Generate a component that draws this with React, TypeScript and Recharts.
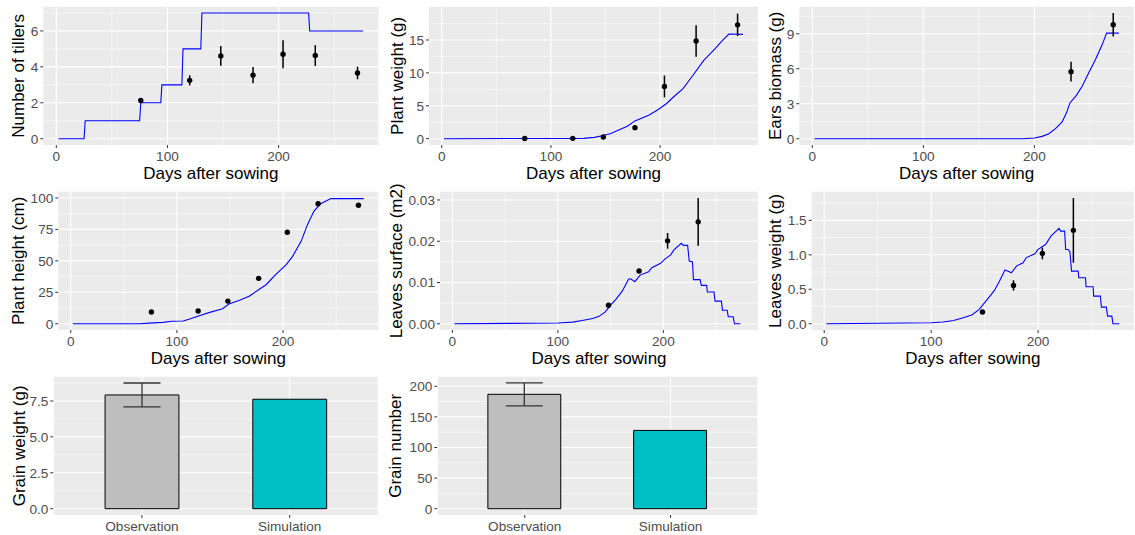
import React from 'react'
import {
  ComposedChart,
  BarChart,
  Line,
  Scatter,
  Bar,
  Cell,
  ErrorBar,
  XAxis,
  YAxis,
  CartesianGrid,
  Label,
} from 'recharts'

type Pt = [number, number]

const FONT = '"Liberation Sans", Arial, Helvetica, sans-serif'
const SIM_COLOR = '#0000FF'
const PANEL_BG = '#EBEBEB'
const TICK_TEXT = { fontSize: 13.6, fill: '#4D4D4D' }
const TICK_LINE = { stroke: '#333333', strokeWidth: 1 }

// shared time axis
const DAY_DOMAIN = [-11.7, 289.7]
const DAY_TICKS = [0, 100, 200]
const DAY_MINOR = [50, 150, 250]
const OBS_DAYS = [76, 120, 148, 177, 204, 233, 271]
const LATE_DAYS = [148, 177, 204, 233]
const EAR_DAYS = [233, 271]

// Number of tillers
const TILLERS_SIM: Pt[] = [
  [2, 0], [25, 0], [26, 1], [75, 1], [76, 2], [94, 2], [95, 3], [113, 3],
  [114, 5], [130, 5], [131, 7], [227, 7], [228, 6], [276, 6],
]
const TILLERS_OBS = [2.13, 3.25, 4.61, 3.54, 4.7, 4.63, 3.66]
const TILLERS_ERR = [0.08, 0.28, 0.55, 0.45, 0.78, 0.58, 0.35]

// Plant weight (g)
const WEIGHT_SIM: Pt[] = [
  [2, 0], [130, 0.05], [140, 0.2], [147, 0.45], [155, 0.8], [160, 1.15], [170, 1.9],
  [177, 2.7], [190, 3.6], [198, 4.4], [206, 5.35], [212, 6.3], [221, 7.6], [230, 9.6],
  [240, 11.9], [250, 13.6], [257, 14.9], [263, 15.9], [276, 15.85],
]
const WEIGHT_OBS = [0.03, 0.05, 0.25, 1.68, 7.94, 14.85, 17.3]
const WEIGHT_ERR = [0, 0, 0, 0, 1.65, 2.4, 1.7]

// Ears biomass (g)
const EARS_SIM: Pt[] = [
  [2, 0], [190, 0], [200, 0.06], [207, 0.2], [213, 0.43], [219, 0.86], [225, 1.44],
  [229, 2.24], [232, 3.07], [238, 3.74], [243, 4.5], [249, 5.66], [255, 6.8],
  [261, 8.05], [265, 9.05], [276, 9.05],
]
const EARS_OBS = [5.75, 9.77]
const EARS_ERR = [0.85, 1.0]

// Plant height (cm)
const HEIGHT_SIM: Pt[] = [
  [2, 0], [65, 0], [74, 0.5], [87, 1.1], [95, 1.9], [106, 2.1], [112, 3.7], [121, 6.4],
  [131, 9], [143, 11.9], [149, 15.6], [159, 18.6], [168, 21.8], [178, 27.6], [184, 31],
  [193, 39], [203, 47], [209, 53.6], [217, 65.5], [223, 78.8], [229, 89.4], [235, 95.2],
  [245, 99.5], [276, 99.5],
]
const HEIGHT_OBS = [9.3, 10.1, 18.0, 36.1, 72.7, 95.5, 94.2]
const HEIGHT_ERR = [0, 0, 0, 0, 0, 0, 0]

// Leaves surface (m2)
const SURFACE_SIM: Pt[] = [
  [2, 0], [100, 0.0002], [114, 0.0004], [123, 0.0008], [133, 0.0013], [139, 0.0018],
  [145, 0.0029], [150, 0.0045], [155, 0.0059], [161, 0.0079], [167, 0.0108],
  [169, 0.0109], [173, 0.0102], [178, 0.0118], [186, 0.0126], [189, 0.0136],
  [197, 0.0146], [202, 0.0158], [207, 0.0167], [210, 0.0179], [217, 0.0195],
  [219, 0.019], [223, 0.019], [224.5, 0.0152], [227.6, 0.015], [228.5, 0.0107],
  [234.8, 0.0107], [236, 0.0093], [241, 0.0093], [241.7, 0.0077], [248, 0.0077],
  [249, 0.0055], [255, 0.0055], [256, 0.0033], [260.5, 0.0033], [261.5, 0.0017],
  [266.2, 0.0017], [267.4, 0], [273, 0],
]
const SURFACE_OBS = [0.0045, 0.0128, 0.0201, 0.0247]
const SURFACE_ERR = [0, 0, 0.0019, 0.0058]

// Leaves weight (g)
const LEAVES_SIM: Pt[] = [
  [2, 0], [100, 0.015], [111, 0.024], [121, 0.048], [130, 0.087], [138, 0.126],
  [145, 0.208], [150, 0.305], [155, 0.4], [159, 0.48], [164, 0.62], [169, 0.78],
  [172, 0.76], [175, 0.74], [180, 0.84], [186, 0.885], [189, 0.96], [197, 1.016],
  [200, 1.08], [207, 1.15], [212, 1.27], [219.6, 1.383], [221.1, 1.344], [224.8, 1.344],
  [225.8, 1.078], [227.9, 1.078], [229.8, 1.045], [231.3, 0.763], [237.5, 0.763],
  [238.1, 0.667], [244.3, 0.667], [244.9, 0.537], [251.4, 0.537], [252, 0.4],
  [258.3, 0.4], [259.2, 0.241], [263.8, 0.241], [265, 0.11], [269, 0.11], [270, 0],
  [276, 0],
]
const LEAVES_OBS = [0.17, 0.556, 1.02, 1.355]
const LEAVES_ERR = [0.02, 0.075, 0.085, 0.47]

// final grain
const BAR_CATEGORIES = ['Observation', 'Simulation']
const BAR_COLORS = ['#BEBEBE', '#00BFC4']
const GRAIN_WEIGHT = [7.92, 7.62]
const GRAIN_WEIGHT_ERR = [0.83, 0]
const GRAIN_NUMBER = [186.9, 127.9]
const GRAIN_NUMBER_ERR = [18.8, 0]

interface Frame {
  left: number
  top: number
  width: number
  height: number
  plotL: number
  plotT: number
  plotR: number
  plotB: number
  titleX: number
}

const toLine = (pts: Pt[]) => pts.map(([x, y]) => ({ x, y }))
const toObs = (days: number[], vals: number[], errs: number[]) =>
  days.map((x, i) => ({ x, y: vals[i], err: errs[i] }))

const ObsDot = (props: any) =>
  props.cx == null ? null : <circle cx={props.cx} cy={props.cy} r={2.7} fill="#000000" />

const xTitle = (f: Frame, text: string) => (
  <Label
    content={() => (
      <text
        x={(f.plotL + f.plotR) / 2 - f.left}
        y={f.plotB - f.top + 28}
        textAnchor="middle"
        dominantBaseline="central"
        fontSize={17}
        fill="#000000"
      >
        {text}
      </text>
    )}
  />
)

const yTitle = (f: Frame, text: string) => {
  const x = f.titleX - f.left
  const y = (f.plotT + f.plotB) / 2 - f.top
  return (
    <Label
      content={() => (
        <text
          x={x}
          y={y}
          transform={`rotate(-90, ${x}, ${y})`}
          textAnchor="middle"
          dominantBaseline="central"
          fontSize={17}
          fill="#000000"
        >
          {text}
        </text>
      )}
    />
  )
}

interface LinePanelProps {
  f: Frame
  title: string
  yDomain: number[]
  yTicks: number[]
  yMinor: number[]
  yFmt?: (v: number) => string
  sim: Pt[]
  obs: { x: number; y: number; err: number }[]
  showErr?: boolean
}

const LinePanel: React.FC<LinePanelProps> = ({ f, title, yDomain, yTicks, yMinor, yFmt, sim, obs, showErr = true }) => (
  <div style={{ position: 'absolute', left: f.left, top: f.top }}>
    <ComposedChart
      width={f.width}
      height={f.height}
      margin={{ top: f.plotT - f.top, right: f.left + f.width - f.plotR, bottom: 0, left: 0 }}
    >
      <CartesianGrid fill={PANEL_BG} stroke="#FFFFFF" strokeWidth={0.55} horizontalValues={yMinor} verticalValues={DAY_MINOR} />
      <CartesianGrid stroke="#FFFFFF" strokeWidth={1.1} horizontalValues={yTicks} verticalValues={DAY_TICKS} />
      <XAxis
        type="number"
        dataKey="x"
        domain={DAY_DOMAIN}
        ticks={DAY_TICKS}
        allowDataOverflow
        height={f.top + f.height - f.plotB}
        axisLine={false}
        tickSize={3}
        tickMargin={3}
        tickLine={TICK_LINE}
        tick={TICK_TEXT}
        label={xTitle(f, 'Days after sowing')}
      />
      <YAxis
        type="number"
        dataKey="y"
        domain={yDomain}
        ticks={yTicks}
        allowDataOverflow
        width={f.plotL - f.left}
        axisLine={false}
        tickSize={3}
        tickMargin={2}
        tickLine={TICK_LINE}
        tick={TICK_TEXT}
        tickFormatter={yFmt}
        label={yTitle(f, title)}
      />
      <Line
        data={toLine(sim)}
        dataKey="y"
        type="linear"
        stroke={SIM_COLOR}
        strokeWidth={1.1}
        dot={false}
        activeDot={false}
        isAnimationActive={false}
      />
      <Scatter data={obs} dataKey="y" shape={ObsDot} isAnimationActive={false}>
        {showErr && <ErrorBar dataKey="err" direction="y" width={0} stroke="#000000" strokeWidth={1.5} />}
      </Scatter>
    </ComposedChart>
  </div>
)

interface BarPanelProps {
  f: Frame
  title: string
  values: number[]
  errs: number[]
  yDomain: number[]
  yTicks: number[]
  yMinor: number[]
  yFmt?: (v: number) => string
}

const BarPanel: React.FC<BarPanelProps> = ({ f, title, values, errs, yDomain, yTicks, yMinor, yFmt }) => {
  const data = BAR_CATEGORIES.map((name, i) => ({ name, value: values[i], err: errs[i] }))
  const w = f.plotR - f.plotL
  // ggplot puts discrete positions 0.6 units in from each edge
  const pad = w * (0.6 / 2.2 - 0.25) * 2
  const barW = (w - 2 * pad) / 4
  return (
    <div style={{ position: 'absolute', left: f.left, top: f.top }}>
      <BarChart
        width={f.width}
        height={f.height}
        data={data}
        margin={{ top: f.plotT - f.top, right: f.left + f.width - f.plotR, bottom: 0, left: 0 }}
      >
        <CartesianGrid fill={PANEL_BG} stroke="#FFFFFF" strokeWidth={0.55} vertical={false} horizontalValues={yMinor} />
        <CartesianGrid stroke="#FFFFFF" strokeWidth={1.1} horizontalValues={yTicks} />
        <XAxis
          dataKey="name"
          padding={{ left: pad, right: pad }}
          height={f.top + f.height - f.plotB}
          axisLine={false}
          tickSize={3}
          tickMargin={3}
          tickLine={TICK_LINE}
          tick={TICK_TEXT}
          interval={0}
        />
        <YAxis
          type="number"
          domain={yDomain}
          ticks={yTicks}
          allowDataOverflow
          width={f.plotL - f.left}
          axisLine={false}
          tickSize={3}
          tickMargin={2}
          tickLine={TICK_LINE}
          tick={TICK_TEXT}
          tickFormatter={yFmt}
          label={yTitle(f, title)}
        />
        <Bar dataKey="value" barSize={barW} stroke="#000000" strokeWidth={1} isAnimationActive={false}>
          {data.map((d, i) => (
            <Cell key={d.name} fill={BAR_COLORS[i]} />
          ))}
          <ErrorBar dataKey="err" direction="y" width={18.5} stroke="#333333" strokeWidth={1.3} />
        </Bar>
      </BarChart>
    </div>
  )
}

const fmt1 = (v: number) => v.toFixed(1)
const fmt2 = (v: number) => v.toFixed(2)

// row 2 charts start a little higher so the long rotated titles are not clipped
const F1: Frame = { left: 0, top: 0, width: 381, height: 183, plotL: 43.3, plotT: 6.7, plotR: 378.3, plotB: 145, titleX: 18.5 }
const F2: Frame = { left: 381, top: 0, width: 379, height: 183, plotL: 429, plotT: 6.7, plotR: 758, plotB: 145, titleX: 397.5 }
const F3: Frame = { left: 760, top: 0, width: 375, height: 183, plotL: 799.3, plotT: 6.7, plotR: 1134, plotB: 145, titleX: 776 }
const F4: Frame = { left: 0, top: 175, width: 381, height: 193, plotL: 58.3, plotT: 191.7, plotR: 378.3, plotB: 330, titleX: 19 }
const F5: Frame = { left: 381, top: 175, width: 379, height: 193, plotL: 440, plotT: 191.7, plotR: 758, plotB: 330, titleX: 397 }
const F6: Frame = { left: 760, top: 175, width: 375, height: 193, plotL: 811.7, plotT: 191.7, plotR: 1134, plotB: 330, titleX: 776 }
const F7: Frame = { left: 0, top: 368, width: 381, height: 167, plotL: 53.3, plotT: 376.7, plotR: 378.3, plotB: 515, titleX: 19.5 }
const F8: Frame = { left: 381, top: 368, width: 379, height: 167, plotL: 437.3, plotT: 376.7, plotR: 758, plotB: 515, titleX: 396 }

export default function App() {
  return (
    <div style={{ position: 'fixed', left: 0, top: 0, width: 1135, height: 535, background: '#FFFFFF', fontFamily: FONT }}>
      <LinePanel
        f={F1}
        title="Number of tillers"
        yDomain={[-0.35, 7.35]}
        yTicks={[0, 2, 4, 6]}
        yMinor={[1, 3, 5, 7]}
        sim={TILLERS_SIM}
        obs={toObs(OBS_DAYS, TILLERS_OBS, TILLERS_ERR)}
      />
      <LinePanel
        f={F2}
        title="Plant weight (g)"
        yDomain={[-0.96, 20.06]}
        yTicks={[0, 5, 10, 15]}
        yMinor={[2.5, 7.5, 12.5, 17.5]}
        sim={WEIGHT_SIM}
        obs={toObs(OBS_DAYS, WEIGHT_OBS, WEIGHT_ERR)}
      />
      <LinePanel
        f={F3}
        title="Ears biomass (g)"
        yDomain={[-0.54, 11.32]}
        yTicks={[0, 3, 6, 9]}
        yMinor={[1.5, 4.5, 7.5, 10.5]}
        sim={EARS_SIM}
        obs={toObs(EAR_DAYS, EARS_OBS, EARS_ERR)}
      />
      <LinePanel
        f={F4}
        title="Plant height (cm)"
        yDomain={[-5, 105]}
        yTicks={[0, 25, 50, 75, 100]}
        yMinor={[12.5, 37.5, 62.5, 87.5]}
        sim={HEIGHT_SIM}
        obs={toObs(OBS_DAYS, HEIGHT_OBS, HEIGHT_ERR)}
        showErr={false}
      />
      <LinePanel
        f={F5}
        title="Leaves surface (m2)"
        yDomain={[-0.0015, 0.032]}
        yTicks={[0, 0.01, 0.02, 0.03]}
        yMinor={[0.005, 0.015, 0.025]}
        yFmt={fmt2}
        sim={SURFACE_SIM}
        obs={toObs(LATE_DAYS, SURFACE_OBS, SURFACE_ERR)}
      />
      <LinePanel
        f={F6}
        title="Leaves weight (g)"
        yDomain={[-0.091, 1.916]}
        yTicks={[0, 0.5, 1, 1.5]}
        yMinor={[0.25, 0.75, 1.25, 1.75]}
        yFmt={fmt1}
        sim={LEAVES_SIM}
        obs={toObs(LATE_DAYS, LEAVES_OBS, LEAVES_ERR)}
      />
      <BarPanel
        f={F7}
        title="Grain weight (g)"
        values={GRAIN_WEIGHT}
        errs={GRAIN_WEIGHT_ERR}
        yDomain={[-0.44, 9.19]}
        yTicks={[0, 2.5, 5, 7.5]}
        yMinor={[1.25, 3.75, 6.25, 8.75]}
        yFmt={fmt1}
      />
      <BarPanel
        f={F8}
        title="Grain number"
        values={GRAIN_NUMBER}
        errs={GRAIN_NUMBER_ERR}
        yDomain={[-10.3, 215.7]}
        yTicks={[0, 50, 100, 150, 200]}
        yMinor={[25, 75, 125, 175]}
      />
    </div>
  )
}
